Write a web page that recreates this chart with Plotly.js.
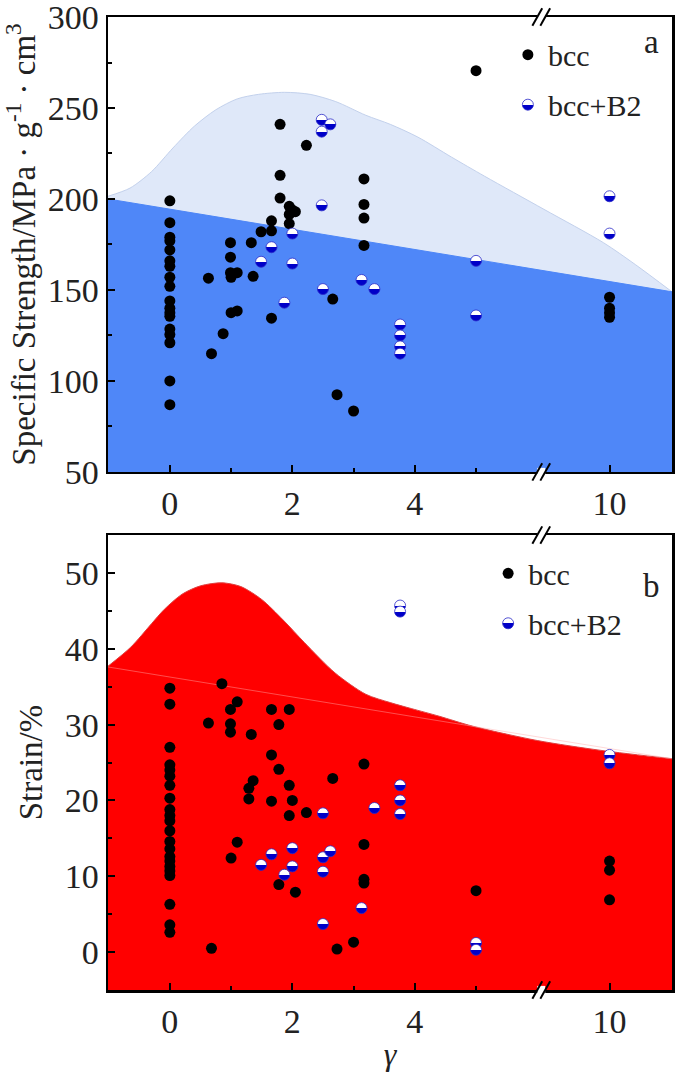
<!DOCTYPE html>
<html>
<head>
<meta charset="utf-8">
<script src="https://cdn.plot.ly/plotly-3.0.1.min.js"></script>
<style>
  body { margin: 0; background: #fff; }
  #plot { width: 675px; height: 1086px; }
</style>
</head>
<body>
<div id="plot"></div>
<script>
// broken gamma axis: 0..6 linear, then 10 drawn just after the break
function pos(g) {
    return g <= 6 ? g : g - 2.82;
}

// ---- panel a : specific strength ----
var strBccG = [0,0,0,0,0,0,0,0,0,0,0,0,0,0,0,0,0,0,
    0.63,0.68,0.87,0.99,0.99,0.99,1.0,1.1,1.0,1.1,1.33,1.36,1.49,1.66,1.66,1.66,
    1.8,1.8,1.8,1.95,1.95,1.95,2.0,2.05,2.23,2.66,2.73,3.0,3.17,3.17,3.17,3.17,
    5,10,10,10,10];
var strBccV = [199,187,179,177,172,166,163,157,152,144,140,137.5,135.5,128.5,125.5,121,100,87,
    156.5,115,126,176,168,159.5,157,159.5,137.5,138.5,176,157.5,182,188,182.5,134.5,
    241,213,200.5,196,191.5,186.5,194,193,229.5,145,92.5,83.5,211,197,189.5,174.5,
    270.5,146,140,137.5,135];
var strB2G = [2.48,2.48,2.62,2.48,1.49,1.66,2.0,2.0,1.87,2.5,3.13,3.34,3.76,3.76,3.76,3.76,5,5,10,10];
var strB2V = [243.5,237,241,196.5,165.5,173.5,181,164.5,143,150.5,155.5,150.5,131,125,119,115,166,136,201.5,181];

// shaded bands of panel a (axis positions)
var strEnvX = [-1.01,-0.65,-0.3,0.05,0.4,0.75,1.1,1.45,1.87,2.29,2.71,3.2,3.6,4.05,4.6,5.14,6.11,7.08,7.6,8.2];
var strEnvV = [201.5,206,215,228,240,249,255,257.5,258.6,257.5,253.5,246,241,234,223,212.5,194.3,176,164,149];
var strLineX = [-1.01, 8.2];
var strLineV = [200, 149];

// ---- panel b : strain ----
var strnBccG = [0,0,0,0,0,0,0,0,0,0,0,0,0,0,0,0,0,0,0,0,0,0,
    0.63,0.68,0.85,0.99,0.99,0.99,1.0,1.1,1.1,1.29,1.29,1.33,1.36,1.66,1.66,1.66,
    1.78,1.78,1.78,1.95,1.95,1.95,2.0,2.05,2.23,2.66,2.73,3.0,3.17,3.17,3.17,3.17,
    5,10,10,10];
var strnBccV = [34.8,32.7,27,24.7,24,23.2,22,20.3,18.8,18,17.3,16,14.6,13.6,12.6,12,11.3,10.7,10.1,6.3,3.6,2.6,
    30.2,0.5,35.4,32,30.1,29,12.4,33,14.5,21.6,20.2,28.7,22.6,32,26,19.9,
    30,24.1,8.9,32,22,18,20,7.9,18.4,22.9,0.4,1.3,24.8,14.2,9.6,9.1,
    8.1,12,10.8,6.9];
var strnB2G = [3.76,3.76,3.76,3.76,3.76,3.34,2.5,1.49,1.66,1.87,2.0,2.0,2.5,2.62,2.5,2.5,3.13,5,5,10,10];
var strnB2V = [45.7,44.9,22,20,18.2,19,18.3,11.5,12.9,10.2,13.7,11.3,12.5,13.3,10.6,3.7,5.8,1.2,0.3,26,24.9];

var strnEnvX = [-1.01,-0.64,-0.3,-0.09,0.2,0.5,0.85,1.16,1.5,1.85,2.2,2.7,3.2,3.6,3.95,4.4,4.94,6.0,7.04,8.2];
var strnEnvV = [37.7,40.2,43.3,45.2,47.2,48.3,48.7,48.2,46.5,43.8,40.8,36.8,34.0,32.9,32.1,31.1,29.8,27.9,26.6,25.5];
var strnLineX = [-1.01, 8.2];
var strnLineV = [37.6, 25.5];

var tickPos = [0, 2, 4, pos(10)];
var tickText = ['0', '2', '4', '10'];

var serif = 'Liberation Serif';

var bccMarker = {color: '#000000', size: 11};
var b2Marker = {color: '#ffffff', size: 11, gradient: {type: 'vertical', color: '#0000c8'},
    line: {color: '#2a2ac8', width: 0.8}};

var traces = [
    // panel a bands
    {x: strEnvX, y: strEnvV, xaxis: 'x', yaxis: 'y', mode: 'lines',
        line: {shape: 'spline', smoothing: 0.8, color: '#c3d1ec', width: 1},
        fill: 'tozeroy', fillcolor: '#dfe8f9', showlegend: false, hoverinfo: 'skip'},
    {x: strLineX, y: strLineV, xaxis: 'x', yaxis: 'y', mode: 'lines', line: {color: '#4d86f7', width: 1},
        fill: 'tozeroy', fillcolor: '#4f87f8', showlegend: false, hoverinfo: 'skip'},
    {x: strBccG.map(pos), y: strBccV, xaxis: 'x', yaxis: 'y', mode: 'markers', name: 'bcc',
        marker: bccMarker, legend: 'legend', legendgroup: 'a1'},
    {x: strB2G.map(pos), y: strB2V, xaxis: 'x', yaxis: 'y', mode: 'markers', name: 'bcc+B2',
        marker: b2Marker, legend: 'legend', legendgroup: 'a2'},

    // panel b band
    {x: strnLineX, y: [-10, -10], xaxis: 'x2', yaxis: 'y2', mode: 'lines', line: {width: 0},
        showlegend: false, hoverinfo: 'skip'},
    {x: strnEnvX, y: strnEnvV, xaxis: 'x2', yaxis: 'y2', mode: 'lines',
        line: {shape: 'spline', smoothing: 0.8, color: '#e04040', width: 1},
        fill: 'tonexty', fillcolor: '#ff0000', showlegend: false, hoverinfo: 'skip'},
    {x: strnLineX, y: strnLineV, xaxis: 'x2', yaxis: 'y2', mode: 'lines', line: {color: 'rgba(255,170,170,0.45)', width: 1},
        showlegend: false, hoverinfo: 'skip'},
    {x: strnBccG.map(pos), y: strnBccV, xaxis: 'x2', yaxis: 'y2', mode: 'markers', name: 'bcc',
        marker: bccMarker, legend: 'legend2', legendgroup: 'b1'},
    {x: strnB2G.map(pos), y: strnB2V, xaxis: 'x2', yaxis: 'y2', mode: 'markers', name: 'bcc+B2',
        marker: b2Marker, legend: 'legend2', legendgroup: 'b2'}
];

function xAxis(anchor, withTitle) {
    var ax = {
        anchor: anchor, range: [-1.01, 8.2], showgrid: false, zeroline: false,
        showline: true, linecolor: '#000', linewidth: 2.5, mirror: true,
        ticks: 'inside', ticklen: 7, tickwidth: 2, tickcolor: '#000',
        tickmode: 'array', tickvals: tickPos, ticktext: tickText,
        minor: {tickvals: [1, 3, 5], ticks: 'inside', ticklen: 4, tickwidth: 2, tickcolor: '#000'},
        tickfont: {family: serif, size: 34, color: '#222'}, ticklabeloverflow: 'allow'
    };
    if (withTitle) {
        ax.title = {text: '<i>γ</i>', font: {family: serif, size: 32, color: '#222'}, standoff: 4};
    }
    return ax;
}

function yAxis(dom, range, dt, title, tsize, gap) {
    return {
        domain: dom, range: range, showgrid: false, zeroline: false,
        showline: true, linecolor: '#000', linewidth: 2.5, mirror: true,
        ticks: 'inside', ticklen: 7, tickwidth: 2, tickcolor: '#000', dtick: dt, tick0: 0,
        minor: {dtick: dt / 2, tick0: 0, ticks: 'inside', ticklen: 4, tickwidth: 2, tickcolor: '#000'},
        tickfont: {family: serif, size: 34, color: '#222'}, ticklabeloverflow: 'allow',
        title: {text: title, font: {family: serif, size: tsize, color: '#222'}, standoff: gap}
    };
}

// axis break marks
var shapes = [];
[['x', 'y domain'], ['x2', 'y2 domain']].forEach(function (r) {
    [0, 1].forEach(function (yl) {
        shapes.push({type: 'rect', xref: r[0], yref: r[1], x0: 6.0, x1: 6.13, y0: yl - 0.009, y1: yl + 0.009,
            fillcolor: '#ffffff', line: {width: 0}, layer: 'above'});
        [6.0, 6.13].forEach(function (c) {
            shapes.push({type: 'line', xref: r[0], yref: r[1], x0: c - 0.08, x1: c + 0.08,
                y0: yl - 0.019, y1: yl + 0.019, line: {color: '#000', width: 2}, layer: 'above'});
        });
    });
});

var layout = {
    width: 675, height: 1086,
    margin: {l: 108, r: 3, t: 17, b: 96},
    paper_bgcolor: '#fff', plot_bgcolor: '#fff',
    font: {family: serif, color: '#222'},
    xaxis: xAxis('y', false),
    yaxis: yAxis([0.5324, 1], [50, 300], 50, 'Specific Strength/MPa · g<sup>-1</sup> · cm<sup>3</sup>', 33, 3),
    xaxis2: xAxis('y2', true),
    yaxis2: yAxis([0, 0.4676], [-5, 55], 10, 'Strain/%', 33, 12),
    legend: {x: 0.709, y: 0.988, xanchor: 'left', yanchor: 'top', bgcolor: 'rgba(0,0,0,0)',
        font: {family: serif, size: 30, color: '#222'}, traceorder: 'grouped', tracegroupgap: 8,
        itemwidth: 30},
    legend2: {x: 0.674, y: 0.455, xanchor: 'left', yanchor: 'top', bgcolor: 'rgba(0,0,0,0)',
        font: {family: serif, size: 30, color: '#222'}, traceorder: 'grouped', tracegroupgap: 8,
        itemwidth: 30},
    annotations: [
        {text: 'a', xref: 'paper', yref: 'paper', x: 0.963, y: 0.974, xanchor: 'center', yanchor: 'middle',
            showarrow: false, font: {family: serif, size: 33, color: '#222'}},
        {text: 'b', xref: 'paper', yref: 'paper', x: 0.963, y: 0.415, xanchor: 'center', yanchor: 'middle',
            showarrow: false, font: {family: serif, size: 33, color: '#222'}}
    ],
    shapes: shapes,
    showlegend: true
};

// make the bcc+B2 markers half white / half blue
function splitGradients() {
    document.querySelectorAll('#plot linearGradient').forEach(function (gr) {
        var stops = gr.querySelectorAll('stop');
        if (stops.length < 2) return;
        var a = stops[0], b = stops[stops.length - 1];
        var a2 = a.cloneNode(true), b2 = b.cloneNode(true);
        a.setAttribute('offset', '0%');
        a2.setAttribute('offset', '50%');
        b2.setAttribute('offset', '50%');
        b.setAttribute('offset', '100%');
        gr.insertBefore(a2, b);
        gr.insertBefore(b2, b);
    });
}

Plotly.newPlot('plot', traces, layout, {staticPlot: true}).then(splitGradients);
</script>
</body>
</html>
